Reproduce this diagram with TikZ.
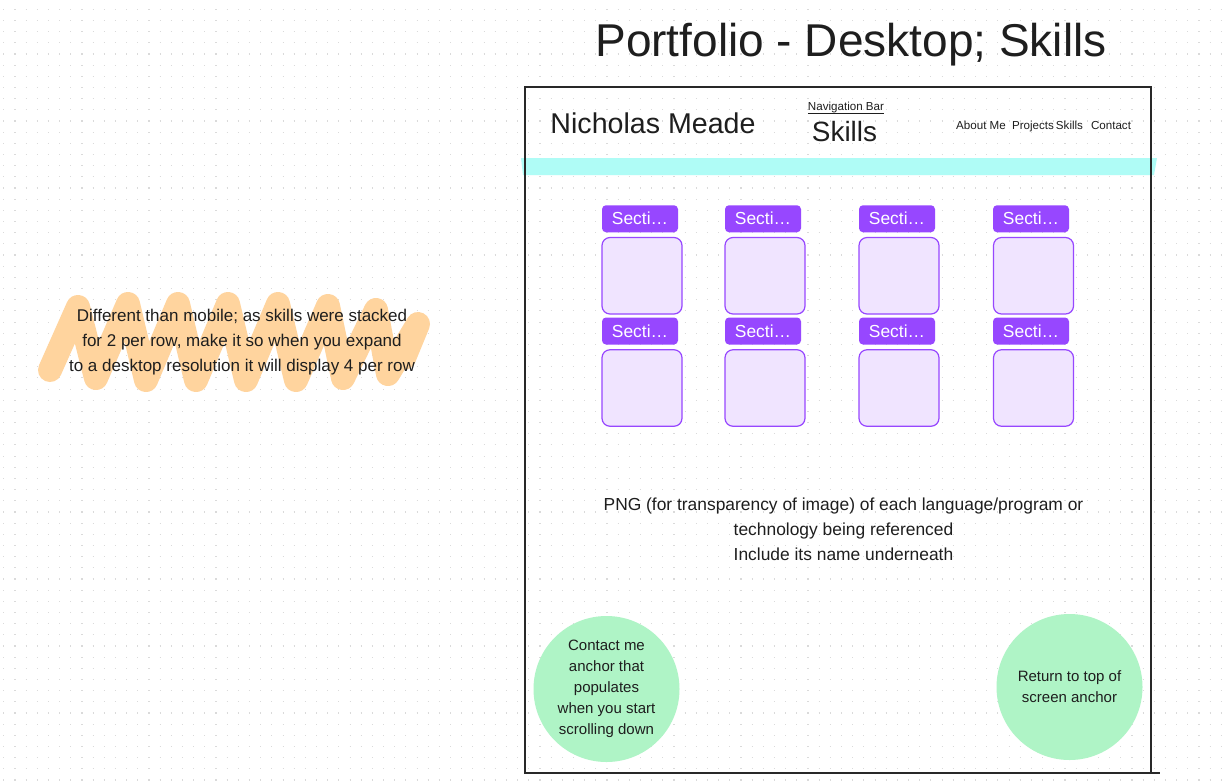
\documentclass[tikz,border=0pt]{standalone}
\usepackage{fontspec}
\setmainfont{Liberation Sans}
\usetikzlibrary{calc}
\definecolor{ink}{RGB}{30,30,30}
\definecolor{framec}{RGB}{40,40,40}
\definecolor{dotc}{RGB}{218,218,218}
\definecolor{purp}{RGB}{151,71,255}
\definecolor{cardfill}{RGB}{240,228,255}
\definecolor{mint}{RGB}{175,244,198}
\definecolor{aqua}{RGB}{175,252,246}
\definecolor{peach}{RGB}{255,212,158}
\newcommand{\fsz}[2]{\fontsize{#1}{#2}\selectfont}
\begin{document}
\begin{tikzpicture}[x=1pt,y=-1pt,
  dotrow/.style={draw=dotc,line width=1.1pt,dash pattern=on 1.1pt off 10.07pt},
  txt/.style={text=ink,inner sep=0pt},
  tag/.style={fill=purp,rounded corners=4pt,minimum width=76pt,minimum height=27pt,
    inner sep=0pt,text=white,font=\fsz{17.4}{20}},
  card/.style={draw=purp,line width=1.2pt,fill=cardfill,rounded corners=8pt,
    minimum width=80pt,minimum height=76.5pt,inner sep=0pt},
  anchorbtn/.style={circle,fill=mint,minimum size=146pt,inner sep=0pt,text=ink,
    align=center,font=\fsz{15}{21}},
  navitem/.style={txt,anchor=base,font=\fsz{11.6}{14}}]

% canvas
\useasboundingbox (0,0) rectangle (1229,780);
\fill[white] (0,0) rectangle (1229,780);
\foreach \k in {0,...,69}
  \draw[dotrow] (3.25,{9.3+11.17*\k}) -- (1229,{9.3+11.17*\k});

% highlighter scribble behind the note
\draw[peach,line width=24pt,line cap=round,line join=round]
  (50,370) -- (78,307) -- (96,378) -- (128,304) -- (146,380) -- (178,304)
  -- (196,380) -- (228,304) -- (246,380) -- (278,304) -- (296,380)
  -- (328,306) -- (343,378) -- (376,310) -- (388,374) -- (418,324)
  -- (404,358);

\node[txt,align=center,font=\fsz{17}{25}] (note) at (242,342)
  {Different than mobile; as skills were stacked\\
   for 2 per row, make it so when you expand\\
   to a desktop resolution it will display 4 per row};

% title
\node[txt,anchor=base,font=\fsz{46}{56}] (title) at (851,56.5)
  {Portfolio - Desktop; Skills};

% navigation bar strip
\fill[aqua] (521,158) -- (1157,158) -- (1154,175) -- (523,175) -- cycle;

% page frame
\draw[framec,line width=2pt]
  (1151,772.5) -- (1151,87) -- (525,87) -- (525,772.5) -- (1160,772.5);

% header
\node[txt,anchor=base,font=\fsz{28.6}{34}] (name) at (653,133.5) {Nicholas Meade};
\node[txt,anchor=base,font=\fsz{11.6}{14}] (navbar) at (846,110) {Navigation Bar};
\draw[ink,line width=0.8pt] ($(navbar.base west)+(0,3)$) -- ($(navbar.base east)+(0,3)$);
\node[txt,anchor=base,font=\fsz{27.9}{34}] (page) at (844.5,141.7) {Skills};
\node[navitem] (about) at (981,129) {About Me};
\node[navitem] (proj) at (1033,129) {Projects};
\node[navitem] (skl) at (1069.5,129) {Skills};
\node[navitem] (cont) at (1111,129) {Contact};

% skill tiles, four per row
\foreach \tx/\cx [count=\i] in {640/642, 763/765, 897/899, 1031/1033.5}{
  \node[tag] (tagA\i) at (\tx,218.75) {Secti…};
  \node[card] (cardA\i) at (\cx,275.75) {};
  \node[tag] (tagB\i) at (\tx,331) {Secti…};
  \node[card] (cardB\i) at (\cx,388) {};
}

% description
\node[txt,align=center,font=\fsz{17.4}{25}] (desc) at (843.5,529)
  {PNG (for transparency of image) of each language/program or\\
   technology being referenced\\
   Include its name underneath};

% anchor buttons
\node[anchorbtn] (contact) at (606.5,689)
  {Contact me\\anchor that\\populates\\when you start\\scrolling down};
\node[anchorbtn] (totop) at (1069.5,687)
  {Return to top of\\screen anchor};
\end{tikzpicture}
\end{document}
